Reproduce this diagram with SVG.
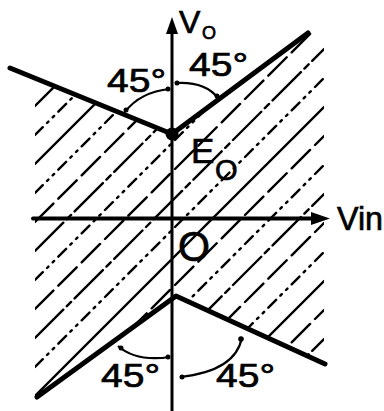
<svg xmlns="http://www.w3.org/2000/svg" width="384" height="411" viewBox="0 0 384 411">
<style>
.t{font-family:"Liberation Sans",Arial,sans-serif;fill:#000;stroke:#000;stroke-width:0.7}
.h{stroke:#000;stroke-width:2.4;fill:none;stroke-linecap:round}
.h1{stroke-dasharray:26 7}
.h2{stroke-dasharray:11 6 2 6 2 6}
.h3{stroke-dasharray:40 5 6 5}
.curve{stroke:#000;stroke-width:5;fill:none;stroke-linecap:round;stroke-linejoin:round}
.arc{stroke:#000;stroke-width:2.2;fill:none}
</style>
<defs>
<clipPath id="band">
<path d="M35,78 L172,134 L310,32 L324,32 L324,364 L177,297 L35,398 Z"/>
</clipPath>
</defs>
<rect width="384" height="411" fill="#fff"/>
<g id="hatching" clip-path="url(#band)">
<line class="h" x1="35" y1="77" x2="324" y2="-212"/>
<line class="h h1" x1="35" y1="106" x2="324" y2="-183"/>
<line class="h h2" x1="35" y1="135" x2="324" y2="-154"/>
<line class="h" x1="35" y1="164" x2="324" y2="-125"/>
<line class="h h2" x1="35" y1="193" x2="324" y2="-96"/>
<line class="h h1" x1="35" y1="222" x2="324" y2="-67"/>
<line class="h h3" x1="35" y1="251" x2="324" y2="-38"/>
<line class="h h2" x1="35" y1="280" x2="324" y2="-9"/>
<line class="h h1" x1="35" y1="309" x2="324" y2="20"/>
<line class="h h3" x1="35" y1="338" x2="324" y2="49"/>
<line class="h h2" x1="35" y1="367" x2="324" y2="78"/>
<line class="h" x1="35" y1="396" x2="324" y2="107"/>
<line class="h h1" x1="35" y1="425" x2="324" y2="136"/>
<line class="h h2" x1="35" y1="454" x2="324" y2="165"/>
<line class="h h3" x1="35" y1="483" x2="324" y2="194"/>
<line class="h h1" x1="35" y1="512" x2="324" y2="223"/>
<line class="h h2" x1="35" y1="541" x2="324" y2="252"/>
<line class="h" x1="35" y1="570" x2="324" y2="281"/>
<line class="h h1" x1="35" y1="599" x2="324" y2="310"/>
<line class="h h3" x1="35" y1="628" x2="324" y2="339"/>
<line class="h h1" x1="35" y1="657" x2="324" y2="368"/>
</g>
<g id="axes">
<line x1="172" y1="30" x2="172" y2="411" stroke="#000" stroke-width="3"/>
<path d="M172,17 L178,34 L166,34 Z" fill="#000"/>
<line x1="33" y1="218.5" x2="314" y2="218.5" stroke="#000" stroke-width="4" stroke-linecap="round"/>
<path d="M330,218.5 L311,212 L311,225 Z" fill="#000"/>
</g>
<g id="upper-curve">
<polyline class="curve" points="10,68 172,134 308,33"/>
<circle cx="172" cy="134" r="6.5" fill="#000"/>
</g>
<g id="lower-curve">
<polyline class="curve" points="37,397 176,296 325,364"/>
</g>
<g id="angle-arcs">
<path class="arc" d="M125,112 Q140,92 170,89"/>
<path class="arc" d="M175,83 Q205,81 218,98"/>
<path class="arc" d="M118,346 Q136,362 170,357"/>
<path class="arc" d="M180,377 Q236,371 242,337"/>
<circle cx="126" cy="110" r="2.5"/>
<circle cx="168" cy="89" r="2.5"/>
<circle cx="177" cy="83" r="2.5"/>
<circle cx="217" cy="96" r="2.5"/>
<circle cx="121" cy="348" r="2.5"/>
<circle cx="168" cy="357" r="2.5"/>
<circle cx="182" cy="377" r="2.5"/>
<circle cx="241" cy="339" r="2.8"/>
</g>
<g id="labels">
<text class="t" x="179" y="33" font-size="32">V</text>
<text class="t" x="202" y="39" font-size="18">O</text>
<text class="t" x="191" y="163" font-size="35">E</text>
<text class="t" x="215" y="180" font-size="29">O</text>
<text class="t" x="337" y="230" font-size="34" textLength="46" lengthAdjust="spacingAndGlyphs">Vin</text>
<text class="t" x="178" y="261" font-size="43" textLength="32" lengthAdjust="spacingAndGlyphs">O</text>
<text class="t" x="107" y="92" font-size="34" textLength="59" lengthAdjust="spacingAndGlyphs">45°</text>
<text class="t" x="189" y="76" font-size="34" textLength="59" lengthAdjust="spacingAndGlyphs">45°</text>
<text class="t" x="101" y="387" font-size="34" textLength="59" lengthAdjust="spacingAndGlyphs">45°</text>
<text class="t" x="216" y="387" font-size="34" textLength="59" lengthAdjust="spacingAndGlyphs">45°</text>
</g>
</svg>
